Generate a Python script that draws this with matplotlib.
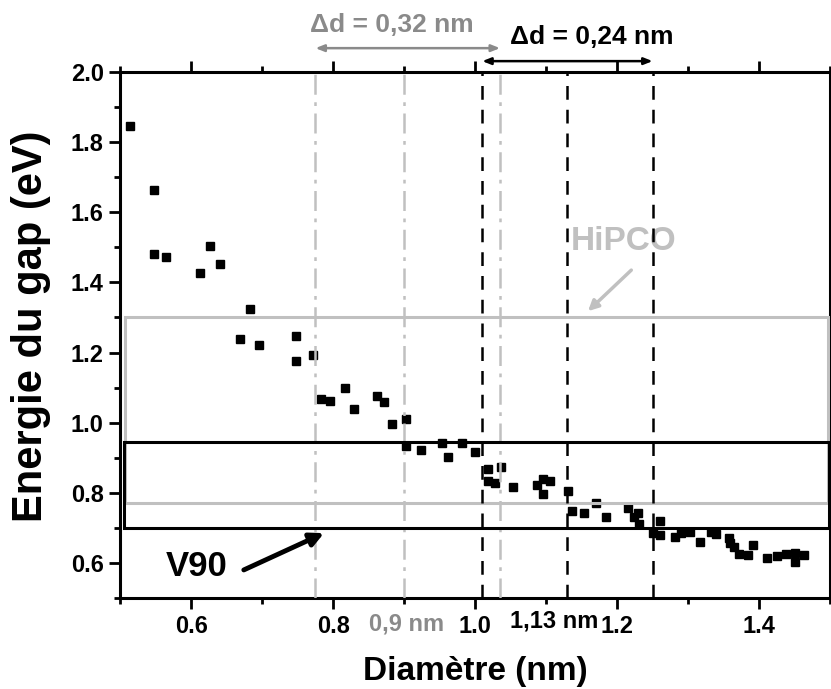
import matplotlib
matplotlib.use('Agg')
import matplotlib.pyplot as plt
from matplotlib.patches import Rectangle
from matplotlib.ticker import MultipleLocator

plt.rcParams['font.family'] = ['Liberation Sans', 'DejaVu Sans']
plt.rcParams['font.weight'] = 'bold'
plt.rcParams['axes.labelweight'] = 'bold'

# nanotube diameter (nm) / gap energy (eV)
diam = [0.514, 0.548, 0.548, 0.565, 0.626, 0.612, 0.640, 0.683, 0.669, 0.696,
        0.747, 0.747, 0.771, 0.783, 0.795, 0.817, 0.829, 0.862, 0.872, 0.883,
        0.903, 0.902, 0.923, 0.953, 0.962, 0.981, 1.000, 1.018, 1.018, 1.028,
        1.036, 1.054, 1.087, 1.096, 1.105, 1.096, 1.131, 1.137, 1.154, 1.170,
        1.185, 1.216, 1.230, 1.224, 1.231, 1.251, 1.260, 1.260, 1.282, 1.290,
        1.303, 1.317, 1.332, 1.339, 1.358, 1.359, 1.365, 1.372, 1.385, 1.392,
        1.411, 1.425, 1.438, 1.450, 1.450, 1.463]
gap = [1.847, 1.664, 1.481, 1.473, 1.504, 1.427, 1.453, 1.323, 1.239, 1.222,
       1.248, 1.175, 1.192, 1.067, 1.062, 1.099, 1.038, 1.077, 1.059, 0.997,
       1.010, 0.934, 0.922, 0.941, 0.901, 0.941, 0.916, 0.868, 0.834, 0.828,
       0.873, 0.817, 0.822, 0.840, 0.833, 0.796, 0.806, 0.749, 0.743, 0.772,
       0.731, 0.756, 0.742, 0.731, 0.711, 0.686, 0.720, 0.680, 0.674, 0.686,
       0.689, 0.660, 0.689, 0.683, 0.671, 0.656, 0.644, 0.626, 0.623, 0.650,
       0.614, 0.621, 0.625, 0.629, 0.603, 0.623]

hipco_range = (0.77, 1.30)
v90_range = (0.70, 0.945)
hipco_lines = [0.775, 0.90, 1.035]
v90_lines = [1.01, 1.13, 1.25]

LGRAY = '#c0c0c0'
MGRAY = '#8a8a8a'

fig = plt.figure(figsize=(8.31, 6.89), dpi=100)
ax = fig.add_axes([0.1448, 0.1321, 0.854, 0.7634])

ax.plot(diam, gap, 's', color='black', ms=5.7, ls='none', zorder=2)

ax.add_patch(Rectangle((0.507, hipco_range[0]), 0.99, hipco_range[1] - hipco_range[0],
                       fill=False, ec=LGRAY, lw=2.2, zorder=3))
ax.add_patch(Rectangle((0.505, v90_range[0]), 0.9935, v90_range[1] - v90_range[0],
                       fill=False, ec='black', lw=2.2, zorder=4))

for x in hipco_lines:
    ax.axvline(x, color=LGRAY, lw=1.8, ls=(0, (8, 3, 1.5, 3)), zorder=3)
for x in v90_lines:
    ax.axvline(x, color='black', lw=1.8, ls=(0, (5.5, 4)), zorder=5)

ax.set_xlim(0.5, 1.5)
ax.set_ylim(0.5, 2.0)
ax.xaxis.set_minor_locator(MultipleLocator(0.1))
ax.yaxis.set_minor_locator(MultipleLocator(0.1))
ax.set_xticks([0.6, 0.8, 1.0, 1.2, 1.4])
ax.set_xticklabels(['0.6', '0.8', '1.0', '1.2', '1.4'])
ax.set_yticks([0.6, 0.8, 1.0, 1.2, 1.4, 1.6, 1.8, 2.0])
ax.set_yticklabels(['0.6', '0.8', '1.0', '1.2', '1.4', '1.6', '1.8', '2.0'])

for s in ax.spines.values():
    s.set_linewidth(2.2)
ax.tick_params(which='both', direction='out', width=2, top=True, right=False,
               labelsize=17)
ax.tick_params(which='major', length=8, pad=4)
ax.tick_params(which='minor', length=4.5)

ax.set_xlabel('Diamètre (nm)', fontsize=24)
ax.xaxis.set_label_coords(0.5, -0.11)
ax.set_ylabel('Energie du gap (eV)', fontsize=30)
ax.yaxis.set_label_coords(-0.097, 0.516)

# extra labels under the axis
ax.text(0.903, -0.027, '0,9 nm', transform=ax.get_xaxis_transform(), color=MGRAY,
        fontsize=17, ha='center', va='top')
ax.text(1.111, -0.022, '1,13 nm', transform=ax.get_xaxis_transform(),
        color='black', fontsize=17, ha='center', va='top')

# annotations
ax.text(0.608, 0.591, 'V90', fontsize=25, ha='center', va='center')
ax.annotate('', xy=(0.787, 0.685), xytext=(0.674, 0.580),
            arrowprops=dict(arrowstyle='-|>,head_length=0.8,head_width=0.4',
                            color='black', lw=3.5, shrinkA=0, shrinkB=0))
ax.text(1.209, 1.518, 'HiPCO', fontsize=24, color=LGRAY, ha='center', va='center')
ax.annotate('', xy=(1.159, 1.318), xytext=(1.220, 1.435),
            arrowprops=dict(arrowstyle='-|>,head_length=0.6,head_width=0.3',
                            color=LGRAY, lw=2.5, shrinkA=0, shrinkB=0))

ax.annotate('', xy=(hipco_lines[0], 2.068), xytext=(hipco_lines[2], 2.068),
            annotation_clip=False,
            arrowprops=dict(arrowstyle='<|-|>,head_length=0.5,head_width=0.2',
                            color=MGRAY, lw=1.8, shrinkA=0, shrinkB=0))
ax.text(0.883, 2.134, '\u0394d = 0,32 nm', fontsize=19, color=MGRAY,
        ha='center', va='center', clip_on=False)
ax.annotate('', xy=(v90_lines[0], 2.031), xytext=(v90_lines[2], 2.031),
            annotation_clip=False,
            arrowprops=dict(arrowstyle='<|-|>,head_length=0.5,head_width=0.2',
                            color='black', lw=1.8, shrinkA=0, shrinkB=0))
ax.text(1.164, 2.099, '\u0394d = 0,24 nm', fontsize=19, color='black',
        ha='center', va='center', clip_on=False)

fig.savefig('out.png', dpi=100)
